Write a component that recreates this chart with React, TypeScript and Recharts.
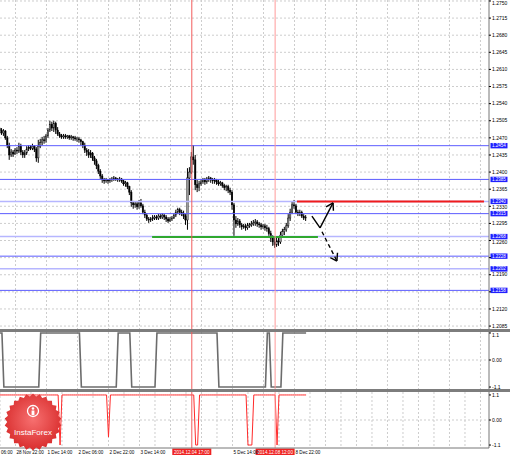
import React from "react";
import { ComposedChart, Bar, Line, XAxis, YAxis, CartesianGrid, ReferenceLine } from "recharts";

const FONT = "'Liberation Sans', Arial, sans-serif";
const H = 1.1;
const L = -1.1;

// H1 bars, numbered from 28 Nov 06:00 (weekend hours skipped)
const FIRST_BAR = 8;
const X_DOMAIN: [number, number] = [8, 260.4];
const PRICE_DOMAIN: [number, number] = [1.2079, 1.2752];
const PRICE_HEIGHT = 329;

const barOpen = [
  1.2490, 1.2486, 1.2480, 1.2484, 1.2470, 1.2455, 1.2435, 1.2441, 1.2437, 1.2445,
  1.2443, 1.2453, 1.2441, 1.2435, 1.2439, 1.2447, 1.2451, 1.2449, 1.2453, 1.2447,
  1.2429, 1.2453, 1.2460, 1.2466, 1.2464, 1.2474, 1.2486, 1.2498, 1.2490, 1.2500,
  1.2486, 1.2478, 1.2474, 1.2472, 1.2474, 1.2472, 1.2474, 1.2470, 1.2472, 1.2470,
  1.2468, 1.2468, 1.2466, 1.2462, 1.2455, 1.2445, 1.2441, 1.2435, 1.2439, 1.2429,
  1.2423, 1.2413, 1.2402, 1.2392, 1.2384, 1.2382, 1.2384, 1.2382, 1.2384, 1.2386,
  1.2388, 1.2386, 1.2384, 1.2386, 1.2382, 1.2376, 1.2378, 1.2370, 1.2359, 1.2337,
  1.2333, 1.2335, 1.2329, 1.2337, 1.2331, 1.2318, 1.2312, 1.2304, 1.2302, 1.2304,
  1.2306, 1.2308, 1.2306, 1.2310, 1.2308, 1.2312, 1.2308, 1.2304, 1.2300, 1.2304,
  1.2306, 1.2312, 1.2318, 1.2323, 1.2318, 1.2316, 1.2310, 1.2302, 1.2388, 1.2400,
  1.2431, 1.2425, 1.2374, 1.2368, 1.2376, 1.2380, 1.2384, 1.2380, 1.2386, 1.2388,
  1.2384, 1.2382, 1.2384, 1.2380, 1.2376, 1.2378, 1.2372, 1.2368, 1.2370, 1.2363,
  1.2359, 1.2333, 1.2302, 1.2294, 1.2300, 1.2292, 1.2288, 1.2290, 1.2286, 1.2290,
  1.2292, 1.2294, 1.2296, 1.2298, 1.2294, 1.2292, 1.2288, 1.2290, 1.2286, 1.2284,
  1.2274, 1.2265, 1.2257, 1.2251, 1.2259, 1.2257, 1.2271, 1.2278, 1.2282, 1.2290,
  1.2306, 1.2318, 1.2333, 1.2331, 1.2318, 1.2316, 1.2318, 1.2310, 1.2306,
];

const barHigh = [
  1.2492, 1.2490, 1.2488, 1.2486, 1.2474, 1.2460, 1.2447, 1.2445, 1.2449, 1.2451,
  1.2460, 1.2458, 1.2445, 1.2445, 1.2453, 1.2455, 1.2455, 1.2458, 1.2455, 1.2451,
  1.2466, 1.2468, 1.2472, 1.2474, 1.2478, 1.2490, 1.2505, 1.2503, 1.2505, 1.2503,
  1.2492, 1.2482, 1.2478, 1.2478, 1.2478, 1.2476, 1.2476, 1.2476, 1.2474, 1.2474,
  1.2472, 1.2472, 1.2468, 1.2464, 1.2460, 1.2449, 1.2447, 1.2445, 1.2441, 1.2433,
  1.2427, 1.2417, 1.2406, 1.2396, 1.2388, 1.2388, 1.2386, 1.2388, 1.2390, 1.2392,
  1.2390, 1.2388, 1.2390, 1.2388, 1.2384, 1.2382, 1.2380, 1.2372, 1.2363, 1.2341,
  1.2339, 1.2339, 1.2343, 1.2345, 1.2335, 1.2323, 1.2316, 1.2308, 1.2308, 1.2312,
  1.2312, 1.2312, 1.2314, 1.2314, 1.2316, 1.2314, 1.2312, 1.2308, 1.2308, 1.2310,
  1.2316, 1.2323, 1.2327, 1.2327, 1.2323, 1.2321, 1.2314, 1.2408, 1.2410, 1.2441,
  1.2455, 1.2435, 1.2384, 1.2382, 1.2386, 1.2388, 1.2388, 1.2390, 1.2392, 1.2390,
  1.2388, 1.2388, 1.2386, 1.2384, 1.2382, 1.2380, 1.2376, 1.2374, 1.2374, 1.2368,
  1.2363, 1.2337, 1.2310, 1.2306, 1.2304, 1.2296, 1.2294, 1.2294, 1.2296, 1.2296,
  1.2300, 1.2302, 1.2304, 1.2302, 1.2298, 1.2296, 1.2294, 1.2294, 1.2292, 1.2288,
  1.2280, 1.2271, 1.2265, 1.2267, 1.2265, 1.2278, 1.2284, 1.2288, 1.2296, 1.2314,
  1.2325, 1.2339, 1.2343, 1.2335, 1.2323, 1.2323, 1.2321, 1.2314, 1.2312,
];

const barLow = [
  1.2480, 1.2476, 1.2474, 1.2466, 1.2449, 1.2425, 1.2431, 1.2431, 1.2435, 1.2437,
  1.2439, 1.2435, 1.2429, 1.2429, 1.2435, 1.2443, 1.2445, 1.2445, 1.2441, 1.2421,
  1.2419, 1.2449, 1.2455, 1.2458, 1.2460, 1.2470, 1.2482, 1.2484, 1.2482, 1.2478,
  1.2474, 1.2470, 1.2468, 1.2468, 1.2468, 1.2468, 1.2466, 1.2466, 1.2464, 1.2464,
  1.2462, 1.2460, 1.2455, 1.2449, 1.2439, 1.2433, 1.2429, 1.2429, 1.2423, 1.2415,
  1.2406, 1.2396, 1.2386, 1.2378, 1.2376, 1.2378, 1.2376, 1.2378, 1.2380, 1.2382,
  1.2382, 1.2380, 1.2380, 1.2378, 1.2372, 1.2370, 1.2365, 1.2353, 1.2329, 1.2325,
  1.2327, 1.2323, 1.2325, 1.2327, 1.2314, 1.2306, 1.2300, 1.2296, 1.2298, 1.2300,
  1.2302, 1.2302, 1.2302, 1.2304, 1.2304, 1.2302, 1.2298, 1.2296, 1.2298, 1.2300,
  1.2304, 1.2308, 1.2314, 1.2312, 1.2310, 1.2304, 1.2292, 1.2282, 1.2353, 1.2396,
  1.2415, 1.2363, 1.2359, 1.2361, 1.2372, 1.2376, 1.2374, 1.2376, 1.2380, 1.2378,
  1.2376, 1.2376, 1.2374, 1.2372, 1.2372, 1.2368, 1.2363, 1.2361, 1.2357, 1.2353,
  1.2323, 1.2267, 1.2286, 1.2290, 1.2286, 1.2282, 1.2284, 1.2280, 1.2282, 1.2286,
  1.2288, 1.2290, 1.2290, 1.2288, 1.2286, 1.2282, 1.2284, 1.2280, 1.2278, 1.2267,
  1.2257, 1.2249, 1.2245, 1.2247, 1.2249, 1.2253, 1.2267, 1.2271, 1.2278, 1.2286,
  1.2300, 1.2314, 1.2325, 1.2314, 1.2310, 1.2310, 1.2306, 1.2302, 1.2300,
];

const barClose = [
  1.2486, 1.2480, 1.2484, 1.2470, 1.2455, 1.2435, 1.2441, 1.2437, 1.2445, 1.2443,
  1.2453, 1.2441, 1.2435, 1.2439, 1.2447, 1.2451, 1.2449, 1.2453, 1.2447, 1.2429,
  1.2453, 1.2460, 1.2466, 1.2464, 1.2474, 1.2486, 1.2498, 1.2490, 1.2500, 1.2486,
  1.2478, 1.2474, 1.2472, 1.2474, 1.2472, 1.2474, 1.2470, 1.2472, 1.2470, 1.2468,
  1.2468, 1.2466, 1.2462, 1.2455, 1.2445, 1.2441, 1.2435, 1.2439, 1.2429, 1.2423,
  1.2413, 1.2402, 1.2392, 1.2384, 1.2382, 1.2384, 1.2382, 1.2384, 1.2386, 1.2388,
  1.2386, 1.2384, 1.2386, 1.2382, 1.2376, 1.2378, 1.2370, 1.2359, 1.2337, 1.2333,
  1.2335, 1.2329, 1.2337, 1.2331, 1.2318, 1.2312, 1.2304, 1.2302, 1.2304, 1.2306,
  1.2308, 1.2306, 1.2310, 1.2308, 1.2312, 1.2308, 1.2304, 1.2300, 1.2304, 1.2306,
  1.2312, 1.2318, 1.2323, 1.2318, 1.2316, 1.2310, 1.2302, 1.2388, 1.2400, 1.2431,
  1.2425, 1.2374, 1.2368, 1.2376, 1.2380, 1.2384, 1.2380, 1.2386, 1.2388, 1.2384,
  1.2382, 1.2384, 1.2380, 1.2376, 1.2378, 1.2372, 1.2368, 1.2370, 1.2363, 1.2359,
  1.2333, 1.2302, 1.2294, 1.2300, 1.2292, 1.2288, 1.2290, 1.2286, 1.2290, 1.2292,
  1.2294, 1.2296, 1.2298, 1.2294, 1.2292, 1.2288, 1.2290, 1.2286, 1.2284, 1.2274,
  1.2265, 1.2257, 1.2251, 1.2259, 1.2257, 1.2271, 1.2278, 1.2282, 1.2290, 1.2306,
  1.2318, 1.2333, 1.2331, 1.2318, 1.2316, 1.2318, 1.2310, 1.2306, 1.2308,
];

// first sub-window: grey step line
const trendSignal = [
  H, H, L, L, L, L, L, L, L, L,
  L, L, L, L, L, L, L, L, L, L,
  L, H, H, H, H, H, H, H, H, H,
  H, H, H, H, H, H, H, H, H, H,
  H, H, L, L, L, L, L, L, L, L,
  L, L, L, L, L, L, L, L, L, L,
  L, H, H, H, H, H, H, H, L, L,
  L, L, L, L, L, L, L, L, L, L,
  L, H, H, H, H, H, H, H, H, H,
  H, H, H, H, H, H, H, H, H, H,
  H, H, H, H, H, H, H, H, H, H,
  H, H, H, L, L, L, L, L, L, L,
  L, L, L, L, L, L, L, L, L, L,
  L, L, L, L, L, L, L, L, H, H,
  L, L, L, L, L, L, H, H, H, H,
  H, H, H, H, H, H, H, H, H,
];

// second sub-window: red spikes
const crossSignal = [
  H, H, H, H, H, H, H, H, H, H,
  H, H, H, H, H, H, H, H, H, H,
  H, H, H, H, H, H, H, H, H, H,
  H, L, H, H, H, H, H, H, H, H,
  H, H, H, H, H, H, H, H, H, H,
  H, H, H, H, H, H, -0.75, H, H, H,
  H, H, H, H, H, H, H, H, H, H,
  H, H, H, H, H, H, H, H, H, H,
  H, H, H, H, H, H, H, H, H, H,
  H, H, H, H, H, H, H, H, H, H,
  H, L, L, H, H, H, H, H, H, H,
  H, H, H, H, H, H, H, H, H, H,
  H, H, H, H, H, H, H, H, L, L,
  L, H, H, H, H, H, H, H, H, H,
  H, H, H, L, H, H, H, H, H, H,
  H, H, H, H, H, H, H, H, H,
];

const priceTicks = [
  1.275, 1.2715, 1.268, 1.2645, 1.261, 1.2575, 1.254, 1.2505, 1.247, 1.2435,
  1.24, 1.2365, 1.233, 1.2295, 1.226, 1.2225, 1.219, 1.2155, 1.212, 1.2085,
];
const priceTickLabels = [
  "1.2750", "1.2715", "1.2680", "1.2645", "1.2610", "1.2575", "1.2540", "1.2505", "1.2470", "1.2435",
  "1.2400", "1.2365", "1.2330", "1.2295", "1.2260", "", "1.2190", "", "1.2120", "1.2085",
];

const strongLevels = [1.2454, 1.2385, 1.2315, 1.2228, 1.2158];
const lightLevels = [1.234, 1.2268, 1.2202];

const targetLine = { from: 161.3, to: 257.8, price: 1.234 };
const supportLine = { from: 86.5, to: 172.1, price: 1.2267 };

const upArrow: [number, number][] = [[169.0, 1.231], [173.2, 1.2286], [179.9, 1.2337]];
const upArrowHead: [number, number][] = [[176.3, 1.2329], [179.9, 1.2337], [180.1, 1.2321]];
const downArrow: [number, number][] = [[174.2, 1.2278], [181.9, 1.2218]];
const downArrowHead: [number, number][] = [[182.2, 1.2235], [181.9, 1.2218], [178.5, 1.2225]];

const gridBars = [
  8, 16, 24, 32, 40, 48, 56, 64, 72, 80, 88, 96, 104, 112, 120, 128,
  136, 144, 152, 160, 168, 176, 184, 192, 200, 208, 216, 224, 232, 240, 248, 256,
];

const timeTicks = [8, 16, 32, 48, 64, 80, 128, 160];
const timeLabels = [
  "06:00", "28 Nov 22:00", "1 Dec 14:00", "2 Dec 06:00", "2 Dec 22:00",
  "3 Dec 14:00", "5 Dec 14:00", "8 Dec 22:00",
];

const markerBars = [107, 150];
const markerLabels = ["2014.12.04 17:00", "2014.12.08 12:00"];

const signalTicks = [1.1, 0, -1.1];
const signalTickLabels = ["1.1", "0.00", "-1.1"];

const rows = barClose.map((close, k) => ({
  bar: FIRST_BAR + k,
  open: barOpen[k],
  high: barHigh[k],
  low: barLow[k],
  close,
  range: [barLow[k], barHigh[k]],
  trend: trendSignal[k],
  cross: crossSignal[k],
}));

function Candle(props: any) {
  const { x, y, width, height, payload } = props;
  if (!payload || height == null) return <g />;
  const cx = x + width / 2;
  const span = payload.high - payload.low || 1e-9;
  const toY = (p: number) => y + ((payload.high - p) / span) * height;
  const top = toY(Math.max(payload.open, payload.close));
  const bot = toY(Math.min(payload.open, payload.close));
  const bull = payload.close >= payload.open;
  return (
    <g>
      <line x1={cx} x2={cx} y1={y} y2={y + height} stroke="#000" strokeWidth={1} />
      <rect
        x={cx - 0.75}
        y={top}
        width={1.5}
        height={Math.max(bot - top, 0.8)}
        fill={bull ? "#9a9a9a" : "#000"}
        stroke="#000"
        strokeWidth={0.4}
      />
    </g>
  );
}

// keeps the edge labels inside their panel
const clampY = (y: number) => Math.max(y, 3);

// nudges a price label away from a level tag sitting too close to it
const pxPerPrice = PRICE_HEIGHT / (PRICE_DOMAIN[1] - PRICE_DOMAIN[0]);
const allLevels = [...strongLevels, ...lightLevels];
function tagClearance(value: number) {
  let shift = 0;
  for (const lv of allLevels) {
    const d = (lv - value) * pxPerPrice; // >0: tag is above the label
    if (Math.abs(d) < 5.4) shift += (d >= 0 ? 1 : -1) * (5.4 - Math.abs(d));
  }
  return shift;
}

function PriceTick({ x, y, payload }: any) {
  const k = priceTicks.indexOf(payload.value);
  return (
    <text x={x} y={clampY(y + tagClearance(payload.value))} dy="0.35em" fontSize={5} fill="#000" fontFamily={FONT}>
      {priceTickLabels[k] ?? ""}
    </text>
  );
}

function SignalTick({ x, y, payload }: any) {
  const k = signalTicks.indexOf(payload.value);
  return (
    <text x={x} y={clampY(y)} dy="0.35em" fontSize={5} fill="#000" fontFamily={FONT}>
      {signalTickLabels[k] ?? ""}
    </text>
  );
}

function TimeTick({ x, y, payload }: any) {
  const k = timeTicks.indexOf(payload.value);
  return (
    <text x={x + 1} y={y + 5.6} fontSize={4.6} fill="#000" fontFamily={FONT}>
      {timeLabels[k] ?? ""}
    </text>
  );
}

const levelTag = (price: number, color: string) => (props: any) => {
  const vb = props.viewBox || {};
  const right = vb.x + vb.width;
  return (
    <g>
      <rect x={right + 1.5} y={vb.y - 2.7} width={17} height={5.4} fill={color} />
      <text x={right + 10} y={vb.y} dy="0.35em" textAnchor="middle" fontSize={4.5} fill="#fff" fontFamily={FONT}>
        {price.toFixed(4)}
      </text>
    </g>
  );
};

const markerTag = (text: string) => (props: any) => {
  const vb = props.viewBox || {};
  const bottom = vb.y + vb.height;
  return (
    <g>
      <rect x={vb.x - 19.5} y={bottom + 0.5} width={39} height={6.5} fill="#ee2222" />
      <text x={vb.x} y={bottom + 5.6} textAnchor="middle" fontSize={4.6} fill="#fff" fontFamily={FONT}>
        {text}
      </text>
    </g>
  );
};

const markerColors = ["#f25c5c", "#ff9a9a"];

function markerLines(withTags: boolean) {
  return markerBars.map((b, k) => (
    <ReferenceLine
      key={`marker-${k}`}
      x={b}
      stroke={markerColors[k]}
      strokeWidth={1}
      label={withTags ? markerTag(markerLabels[k]) : undefined}
    />
  ));
}

function polyline(points: [number, number][], key: string, dash?: string) {
  return points.slice(1).map((p, k) => (
    <ReferenceLine
      key={`${key}-${k}`}
      segment={[
        { x: points[k][0], y: points[k][1] },
        { x: p[0], y: p[1] },
      ]}
      stroke="#000"
      strokeWidth={1.4}
      strokeDasharray={dash}
      ifOverflow="visible"
    />
  ));
}

function PriceChart() {
  return (
    <ComposedChart width={510} height={PRICE_HEIGHT} data={rows} margin={{ top: 0, right: 0, bottom: 0, left: 0 }}>
      <CartesianGrid stroke="#cdcdcd" strokeDasharray="2 2" horizontalValues={priceTicks} verticalValues={gridBars} />
      <XAxis type="number" dataKey="bar" domain={X_DOMAIN} hide />
      <YAxis
        orientation="right"
        width={21}
        type="number"
        domain={PRICE_DOMAIN}
        ticks={priceTicks}
        interval={0}
        axisLine={{ stroke: "#777" }}
        tickLine={{ stroke: "#000" }}
        tickSize={2}
        tickMargin={1}
        tick={(p: any) => <PriceTick {...p} />}
      />
      {lightLevels.map((p) => (
        <ReferenceLine key={`l-${p}`} y={p} stroke="#b6b6ff" strokeWidth={1.5} label={levelTag(p, "#2020ff")} />
      ))}
      {strongLevels.map((p) => (
        <ReferenceLine key={`s-${p}`} y={p} stroke="#5c5cff" strokeWidth={1} label={levelTag(p, "#2020ff")} />
      ))}
      <ReferenceLine
        segment={[
          { x: supportLine.from, y: supportLine.price },
          { x: supportLine.to, y: supportLine.price },
        ]}
        stroke="#2fa82f"
        strokeWidth={2}
      />
      <Bar dataKey="range" barSize={1} shape={(p: any) => <Candle {...p} />} isAnimationActive={false} />
      <ReferenceLine
        segment={[
          { x: targetLine.from, y: targetLine.price },
          { x: targetLine.to, y: targetLine.price },
        ]}
        stroke="#f01c1c"
        strokeWidth={2}
      />
      {polyline(upArrow, "up")}
      {polyline(upArrowHead, "uph")}
      {polyline(downArrow, "dn", "4 3")}
      {polyline(downArrowHead, "dnh")}
      {markerLines(false)}
    </ComposedChart>
  );
}

function TrendPanel() {
  return (
    <ComposedChart width={510} height={57} data={rows} margin={{ top: 0, right: 0, bottom: 0, left: 0 }}>
      <CartesianGrid stroke="#cdcdcd" strokeDasharray="2 2" horizontalValues={[0]} verticalValues={gridBars} />
      <XAxis type="number" dataKey="bar" domain={X_DOMAIN} hide />
      <YAxis
        orientation="right"
        width={21}
        type="number"
        domain={[-1.18, 1.14]}
        ticks={signalTicks}
        interval={0}
        axisLine={{ stroke: "#777" }}
        tickLine={{ stroke: "#000" }}
        tickSize={2}
        tickMargin={1}
        tick={(p: any) => <SignalTick {...p} />}
      />
      <Line dataKey="trend" type="linear" stroke="#6c6c6c" strokeWidth={1.6} dot={false} isAnimationActive={false} />
      {markerLines(false)}
    </ComposedChart>
  );
}

function CrossPanel() {
  return (
    <ComposedChart width={510} height={63} data={rows} margin={{ top: 0, right: 0, bottom: 0, left: 0 }}>
      <CartesianGrid stroke="#cdcdcd" strokeDasharray="2 2" horizontalValues={[0]} verticalValues={gridBars} />
      <XAxis
        type="number"
        dataKey="bar"
        domain={X_DOMAIN}
        ticks={timeTicks}
        interval={0}
        height={7}
        axisLine={{ stroke: "#777" }}
        tickLine={false}
        tickSize={0}
        tickMargin={0}
        tick={(p: any) => <TimeTick {...p} />}
      />
      <YAxis
        orientation="right"
        width={21}
        type="number"
        domain={[-1.23, 1.23]}
        ticks={signalTicks}
        interval={0}
        axisLine={{ stroke: "#777" }}
        tickLine={{ stroke: "#000" }}
        tickSize={2}
        tickMargin={1}
        tick={(p: any) => <SignalTick {...p} />}
      />
      <Line dataKey="cross" type="linear" stroke="#ff2a2a" strokeWidth={1} dot={false} isAnimationActive={false} />
      {markerLines(true)}
    </ComposedChart>
  );
}

function Logo() {
  const teeth = 26;
  const outer = 28.5;
  const inner = 25.8;
  const c = 29;
  const pts: string[] = [];
  for (let k = 0; k < teeth * 2; k++) {
    const r = k % 2 === 0 ? outer : inner;
    const a = (Math.PI * k) / teeth;
    pts.push(`${(c + r * Math.sin(a)).toFixed(2)},${(c - r * Math.cos(a)).toFixed(2)}`);
  }
  return (
    <svg width={58} height={58} style={{ position: "absolute", left: 4, top: 393 }}>
      <defs>
        <radialGradient id="logoFill" cx="50%" cy="45%" r="55%">
          <stop offset="0%" stopColor="#f77070" />
          <stop offset="100%" stopColor="#d92e2e" />
        </radialGradient>
      </defs>
      <polygon points={pts.join(" ")} fill="url(#logoFill)" />
      <circle cx={29} cy={18} r={5.5} fill="none" stroke="#fff" strokeWidth={1.3} />
      <circle cx={29} cy={15.5} r={1.3} fill="#fff" />
      <rect x={27.6} y={17.5} width={2.8} height={4.5} fill="#fff" />
      <text x={29} y={42} textAnchor="middle" fontSize={8} fill="#fff" fontFamily={FONT}>
        InstaForex
      </text>
    </svg>
  );
}

export default function App() {
  return (
    <div
      style={{
        position: "absolute",
        left: 0,
        top: 0,
        width: 510,
        height: 455,
        background: "#fff",
        overflow: "hidden",
        fontFamily: FONT,
      }}
    >
      <PriceChart />
      <div style={{ height: 3, background: "#7d7d7d" }} />
      <TrendPanel />
      <div style={{ height: 3, background: "#7d7d7d" }} />
      <CrossPanel />
      <Logo />
    </div>
  );
}
